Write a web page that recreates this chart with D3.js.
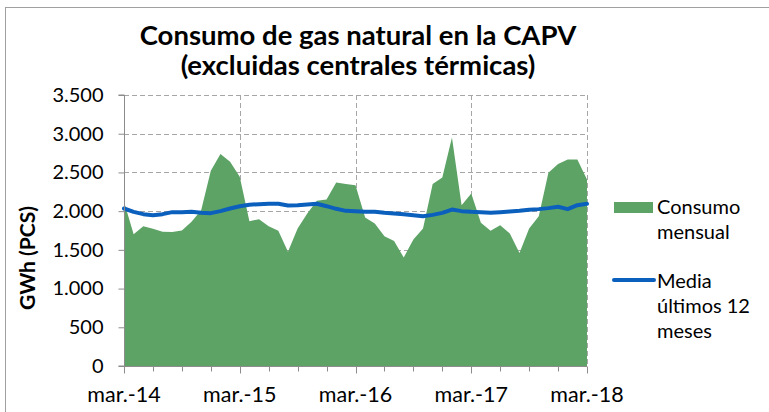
<!DOCTYPE html>
<html><head><meta charset="utf-8">
<script src="https://cdn.jsdelivr.net/npm/d3@7"></script>
<style>body{margin:0;background:#fff;} svg{display:block;font-family:Lato,"Open Sans",sans-serif;}</style>
</head><body>
<svg id="c" width="769" height="412"></svg>
<script>
const titleLines = ["Consumo de gas natural en la CAPV", "(excluidas centrales térmicas)"];
const yAxisTitle = "GWh (PCS)";
const yTicks = [0, 500, 1000, 1500, 2000, 2500, 3000, 3500];
const xTickLabels = ["mar.-14", "mar.-15", "mar.-16", "mar.-17", "mar.-18"];
const seriesNames = ["Consumo mensual", "Media últimos 12 meses"];
// monthly, mar-2014 .. mar-2018 (49 months)
const consumo = [2120,1702,1806,1771,1733,1730,1750,1862,2010,2521,2737,2638,2444,
  1871,1896,1806,1746,1474,1776,1970,2133,2151,2370,2349,2336,
  1918,1840,1677,1616,1401,1633,1776,2349,2435,2952,2077,2228,
  1849,1746,1819,1711,1461,1776,1935,2495,2608,2668,2668,2409];
const media = [2034,1991,1961,1948,1961,1987,1987,1991,1978,1974,2000,2034,2064,
  2082,2090,2095,2095,2073,2077,2086,2095,2064,2030,2004,2000,
  1991,1991,1978,1970,1961,1948,1935,1952,1978,2021,2000,1991,
  1987,1978,1987,1996,2004,2017,2026,2039,2056,2026,2077,2095];

const svg = d3.select("#c");
const L = 124, R = 587, T = 95, B = 366;
const x = d3.scaleLinear().domain([0, consumo.length - 1]).range([L, R]);
const y = d3.scaleLinear().domain([0, 3500]).range([B, T]);
const gridCol = "#A6A6A6", green = "#5DA366", blue = "#0B5FBD";

// frame
svg.append("rect").attr("x", 5.5).attr("y", 7.5).attr("width", 800).attr("height", 420)
  .attr("fill", "none").attr("stroke", "#A0A0A0").attr("stroke-width", 1);

// title
const tt = svg.append("text").attr("text-anchor", "middle").attr("font-weight", 700)
  .attr("font-size", 27.5).attr("fill", "#000");
titleLines.forEach((t, i) => tt.append("tspan").attr("x", 358).attr("y", 45 + i * 30).text(t));

// gridlines
const yearIdx = xTickLabels.map((d, i) => i * 12);
svg.append("g").selectAll("line").data(yTicks.filter(d => d > 0)).join("line")
  .attr("x1", L).attr("x2", R).attr("y1", d => Math.round(y(d)) + 0.5).attr("y2", d => Math.round(y(d)) + 0.5)
  .attr("stroke", gridCol).attr("stroke-dasharray", "5,3");
svg.append("g").selectAll("line").data(yearIdx.filter(d => d > 0)).join("line")
  .attr("x1", d => Math.round(x(d)) + 0.5).attr("x2", d => Math.round(x(d)) + 0.5).attr("y1", T).attr("y2", B)
  .attr("stroke", gridCol).attr("stroke-dasharray", "5,3");

// area
svg.append("path").datum(consumo)
  .attr("d", d3.area().x((d, i) => x(i)).y0(y(0)).y1(d => y(d)))
  .attr("fill", green);

// line
svg.append("path").datum(media)
  .attr("d", d3.line().x((d, i) => x(i)).y(d => y(d)))
  .attr("fill", "none").attr("stroke", blue).attr("stroke-width", 4).attr("stroke-linejoin", "round").attr("stroke-linecap", "round");

// y axis
const ya = svg.append("g").attr("transform", `translate(${L + 0.5},0)`)
  .call(d3.axisLeft(y).tickValues(yTicks).tickSize(6).tickPadding(15)
    .tickFormat(d => d3.format(",")(d).replace(/,/g, ".")));
ya.select(".domain").attr("stroke", "#8C8C8C").attr("d", `M-6,${y(0)}H0V${y(3500)}H-6`);
ya.selectAll(".tick line").attr("stroke", "#8C8C8C");
ya.selectAll("text").attr("font-family", "Lato").attr("font-size", 20).attr("fill", "#000");

// x axis
const qIdx = d3.range(0, consumo.length, 3);
const xa = svg.append("g").attr("transform", `translate(0,${B + 0.5})`);
xa.append("line").attr("x1", L).attr("x2", R).attr("stroke", "#8C8C8C");
xa.selectAll("line.t").data(qIdx).join("line").attr("class", "t")
  .attr("x1", d => Math.round(x(d)) + 0.5).attr("x2", d => Math.round(x(d)) + 0.5)
  .attr("y1", 0).attr("y2", d => d % 12 === 0 ? 7 : 5).attr("stroke", "#8C8C8C");
xa.selectAll("text").data(xTickLabels).join("text")
  .attr("x", (d, i) => x(i * 12)).attr("y", 35).attr("text-anchor", "middle")
  .attr("font-size", 21.5).attr("fill", "#000").text(d => d);

// y axis title
svg.append("text").attr("transform", "translate(35,258) rotate(-90)").attr("text-anchor", "middle")
  .attr("font-weight", 700).attr("font-size", 21).attr("fill", "#000").text(yAxisTitle);

// legend
const lg = svg.append("g").attr("font-size", 20).attr("fill", "#000");
lg.append("rect").attr("x", 614).attr("y", 202).attr("width", 39).attr("height", 11).attr("fill", green);
const t1 = lg.append("text");
["Consumo", "mensual"].forEach((t, i) => t1.append("tspan").attr("x", 657).attr("y", 214 + i * 25).text(t));
lg.append("line").attr("x1", 614).attr("x2", 654).attr("y1", 280).attr("y2", 280)
  .attr("stroke", blue).attr("stroke-width", 4).attr("stroke-linecap", "round");
const t2 = lg.append("text");
["Media", "últimos 12", "meses"].forEach((t, i) => t2.append("tspan").attr("x", 657).attr("y", 288 + i * 25).text(t));
</script>
</body></html>
